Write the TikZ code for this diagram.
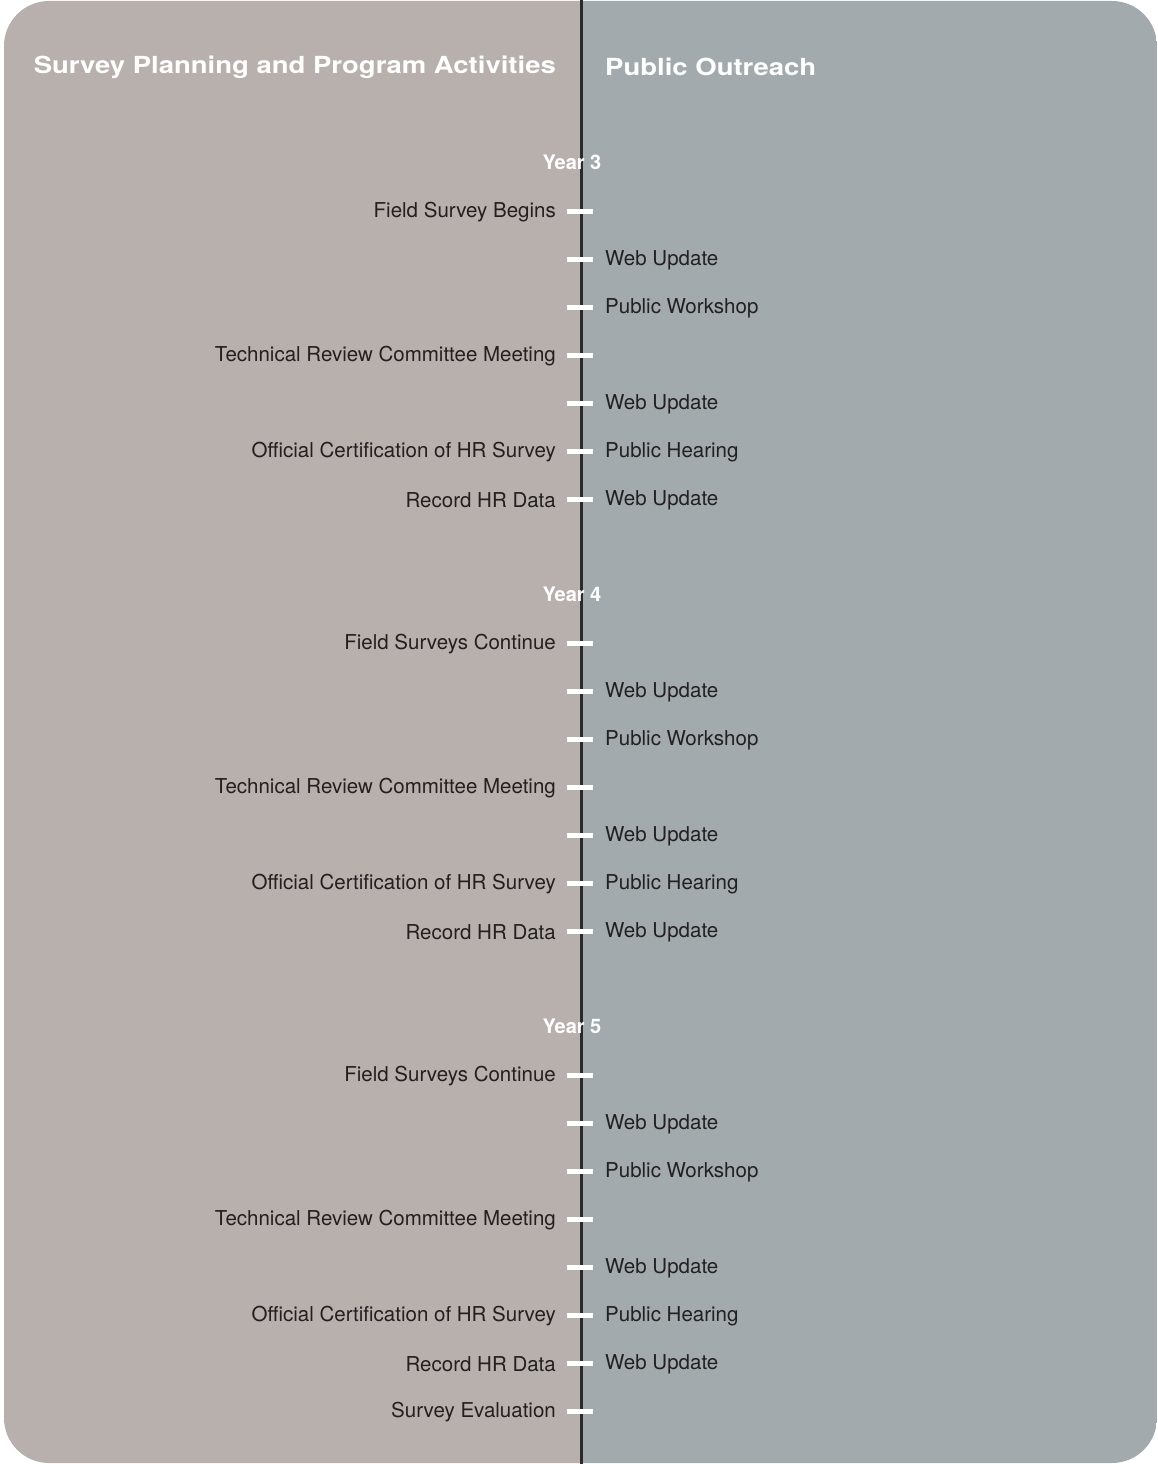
\documentclass[tikz,border=0pt]{standalone}
\usepackage{fontspec}
\setmainfont{TeX Gyre Heros}
\definecolor{leftc}{HTML}{B8B0AD}
\definecolor{rightc}{HTML}{A3AAAD}
\definecolor{txt}{HTML}{231F20}
\definecolor{axis}{HTML}{2A2A2A}
\begin{document}
\begin{tikzpicture}[x=1pt,y=-1pt,
  lefttxt/.style={anchor=east,text=txt,font=\fontsize{20.5}{23}\selectfont,inner sep=0pt},
  righttxt/.style={anchor=west,text=txt,font=\fontsize{20.5}{23}\selectfont,inner sep=0pt},
  yeartxt/.style={text=white,font=\fontsize{20}{23}\selectfont\bfseries,inner sep=0pt},
  headtxt/.style={text=white,font=\fontsize{23.5}{26}\selectfont\bfseries,inner sep=0pt},
  tickmark/.style={draw=white,line width=5pt}]
\useasboundingbox (0,0) rectangle (1157,1464);
\begin{scope}
  \clip[rounded corners=45pt] (4,1) rectangle (1157,1463);
  \fill[leftc] (0,0) rectangle (581,1464);
  \fill[rightc] (581,0) rectangle (1157,1464);
\end{scope}
\coordinate (top) at (581.5,0);
\coordinate (bot) at (581.5,1464);
\draw[axis,line width=3pt] (top) -- (bot);
\node[headtxt,anchor=east] (hl) at (556,67) {\scalebox{1.17}[1]{Survey Planning and Program Activities}};
\node[headtxt,anchor=west] (hr) at (605,67) {\scalebox{1.17}[1]{Public Outreach}};
% Year blocks
\foreach \yr/\yy in {3/162,4/594,5/1026}{
  \node[yeartxt] (year\yr) at (572,\yy) {Year \yr};
}
% rows: y, left text, right text
\foreach \n/\yy/\lt/\rt in {
  a1/211/{Field Survey Begins}/{},
  a2/259/{}/{Web Update},
  a3/307/{}/{Public Workshop},
  a4/355/{Technical Review Committee Meeting}/{},
  a5/403/{}/{Web Update},
  a6/451/{Official Certification of HR Survey}/{Public Hearing},
  a7/499/{Record HR Data}/{Web Update},
  b1/643/{Field Surveys Continue}/{},
  b2/691/{}/{Web Update},
  b3/739/{}/{Public Workshop},
  b4/787/{Technical Review Committee Meeting}/{},
  b5/835/{}/{Web Update},
  b6/883/{Official Certification of HR Survey}/{Public Hearing},
  b7/931/{Record HR Data}/{Web Update},
  c1/1075/{Field Surveys Continue}/{},
  c2/1123/{}/{Web Update},
  c3/1171/{}/{Public Workshop},
  c4/1219/{Technical Review Committee Meeting}/{},
  c5/1267/{}/{Web Update},
  c6/1315/{Official Certification of HR Survey}/{Public Hearing},
  c7/1363/{Record HR Data}/{Web Update},
  c8/1411/{Survey Evaluation}/{}}{
  \coordinate (t\n l) at (567,\yy);
  \coordinate (t\n r) at (593,\yy);
  \draw[tickmark] (t\n l) -- (t\n r);
  \node[lefttxt] (l\n) at (556,\yy+1.5) {\lt};
  \node[righttxt] (r\n) at (605,\yy+1.5) {\rt};
}
\end{tikzpicture}
\end{document}
